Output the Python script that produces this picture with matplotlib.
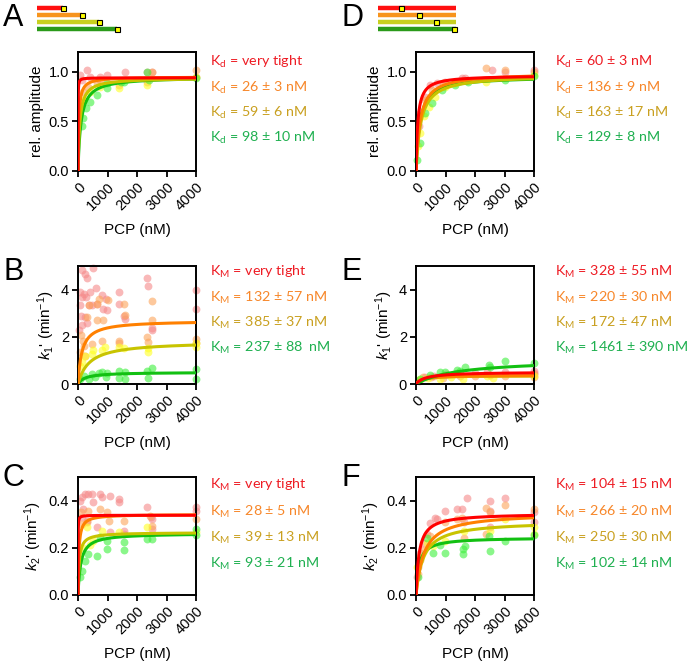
import numpy as np
import matplotlib
matplotlib.use("Agg")
import matplotlib.pyplot as plt

plt.rcParams['font.family'] = ['Liberation Sans', 'DejaVu Sans']
plt.rcParams['mathtext.fontset'] = 'custom'
plt.rcParams['mathtext.rm'] = 'Liberation Sans'
plt.rcParams['mathtext.it'] = 'Liberation Sans:italic'

# ---------------- data ----------------
series = ['red', 'orange', 'yellow', 'green']

# Panel A (rel. amplitude)
A_x = {
    'red':    [68, 296, 410, 752, 980, 1610, 2350, 2520, 4000, 125],
    'orange': [2520, 4000, 1380, 182, 353, 638, 2350, 752],
    'yellow': [1380, 2350, 182, 410, 752, 4000],
    'green':  [125, 182, 273, 410, 638, 980, 980, 1450, 1570, 2350, 2400, 4000],
}
A_y = {
    'red':    [0.97, 1.02, 0.95, 0.95, 0.97, 1.0, 1.0, 1.0, 0.95, 0.92],
    'orange': [1.0, 1.02, 0.87, 0.80, 0.85, 0.89, 0.90, 0.92],
    'yellow': [0.84, 0.87, 0.72, 0.80, 0.85, 0.95],
    'green':  [0.45, 0.53, 0.64, 0.70, 0.77, 0.84, 0.89, 0.90, 0.90, 1.0, 0.92, 0.94],
}
# Panel B (k1')
B_x = {
    'red':    [136, 250, 306, 500, 80, 193, 136, 272, 420, 623, 816, 963, 838, 985,
               1382, 1382, 1552, 1586, 2346, 2357, 2493, 2516, 4000, 4000, 80, 90,
               136, 250, 306, 45, 476, 646, 385],
    'orange': [385, 646, 714, 306, 646, 838, 1020, 1575, 1586, 2493, 2516, 2346, 2380,
               113, 158, 193, 476, 816, 1382, 1382, 4000, 4000, 80, 250],
    'yellow': [476, 230, 930, 1552, 2380, 2380, 4000, 4000, 136, 80, 510, 816, 1382],
    'green':  [80, 193, 476, 816, 963, 1382, 1586, 1382, 1586, 2346, 2516, 2380, 4000,
               4000, 365, 589, 985, 700],
}
B_y = {
    'red':    [4.82, 4.67, 4.5, 4.9, 3.9, 3.83, 3.69, 3.69, 3.9, 4.07, 3.76, 3.62, 3.19,
               3.12, 3.9, 3.4, 2.9, 2.77, 4.5, 4.14, 2.27, 2.37, 3.97, 3.19, 3.33, 2.9,
               2.5, 2.84, 2.6, 2.27, 3.33, 3.4, 3.33],
    'orange': [3.33, 3.4, 3.62, 2.84, 2.7, 2.72, 3.55, 3.4, 2.94, 3.5, 2.72, 1.99, 1.8,
               2.06, 1.84, 1.63, 1.7, 1.84, 1.84, 1.74, 1.91, 1.74, 1.35, 1.2],
    'yellow': [1.28, 1.2, 1.56, 1.52, 1.52, 1.35, 1.74, 1.56, 0.92, 0.78, 1.46, 1.45, 1.56],
    'green':  [0.21, 0.35, 0.43, 0.5, 0.28, 0.57, 0.5, 0.24, 0.21, 0.57, 0.67, 0.24, 0.64,
               0.21, 0.21, 0.28, 0.47, 0.47],
}
# Panel C (k2')
C_x = {
    'red':    [68, 125, 239, 353, 467, 524, 752, 809, 1094, 1380, 1380, 2350, 2485, 2520,
               4000, 4000, 182, 125, 296, 638, 1094, 1550, 1550, 2520],
    'orange': [100, 353, 752, 980, 1040, 1550, 2430, 2520, 4000, 296, 125],
    'yellow': [296, 524, 809, 1380, 2350, 410, 4000, 182],
    'green':  [125, 68, 239, 353, 638, 752, 980, 980, 1550, 1550, 2350, 2520, 4000, 4000],
}
C_y = {
    'red':    [0.40, 0.414, 0.43, 0.43, 0.43, 0.393, 0.43, 0.414, 0.418, 0.407, 0.393,
               0.375, 0.33, 0.322, 0.375, 0.358, 0.365, 0.33, 0.315, 0.287, 0.266, 0.273,
               0.26, 0.28],
    'orange': [0.35, 0.357, 0.365, 0.35, 0.315, 0.315, 0.336, 0.294, 0.322, 0.308, 0.30],
    'yellow': [0.287, 0.23, 0.273, 0.266, 0.287, 0.21, 0.266, 0.20],
    'green':  [0.10, 0.075, 0.145, 0.173, 0.167, 0.245, 0.23, 0.196, 0.224, 0.189, 0.238,
               0.238, 0.28, 0.256],
}
# Panel D (rel. amplitude)
D_x = {
    'red':    [90, 146, 315, 485, 710, 990, 1550, 1660, 2560, 3020, 4000],
    'orange': [315, 540, 930, 2360, 3020, 4000],
    'yellow': [68, 146, 260, 430, 650, 990, 1320, 2360, 4000],
    'green':  [34, 146, 315, 540, 880, 1320, 1770, 3020, 4000],
}
D_y = {
    'red':    [0.45, 0.58, 0.75, 0.87, 0.89, 0.90, 0.94, 0.94, 1.02, 1.0, 1.02],
    'orange': [0.72, 0.82, 0.89, 1.04, 1.02, 1.0],
    'yellow': [0.25, 0.38, 0.55, 0.65, 0.75, 0.85, 0.89, 0.90, 0.97],
    'green':  [0.11, 0.28, 0.58, 0.69, 0.82, 0.87, 0.90, 0.92, 0.96],
}
# Panel E (k1')
E_x = {
    'red':    [100, 300, 600, 1000, 1400, 2000, 2400, 3000, 4000, 4000],
    'orange': [100, 250, 500, 900, 1500, 2000, 2500, 3000, 4000, 4000],
    'yellow': [150, 400, 800, 1200, 1600, 2400, 2600, 4000],
    'green':  [130, 470, 816, 985, 1382, 1500, 1660, 2460, 2516, 3025, 4000],
}
E_y = {
    'red':    [0.12, 0.28, 0.36, 0.42, 0.45, 0.48, 0.50, 0.50, 0.57, 0.45],
    'orange': [0.18, 0.30, 0.30, 0.26, 0.33, 0.36, 0.38, 0.33, 0.42, 0.30],
    'yellow': [0.22, 0.26, 0.22, 0.28, 0.22, 0.32, 0.24, 0.36],
    'green':  [0.21, 0.38, 0.50, 0.52, 0.61, 0.55, 0.71, 0.81, 0.71, 0.99, 0.89],
}
# Panel F (k2')
F_x = {
    'red':    [646, 700, 985, 1382, 1552, 1723, 2493, 3025, 3990, 4000, 365, 476, 250,
               136, 80, 45, 1620, 2516, 2516],
    'orange': [985, 1382, 1552, 2380, 2493, 3025, 4000, 1620, 2380, 476, 250, 136, 80],
    'yellow': [589, 985, 1620, 2516, 3025, 4000, 4000, 365, 136, 20],
    'green':  [589, 985, 1586, 1586, 1660, 2493, 3025, 4000, 2460, 365, 80, 816],
}
F_y = {
    'red':    [0.327, 0.32, 0.356, 0.366, 0.366, 0.41, 0.40, 0.41, 0.35, 0.31, 0.26,
               0.306, 0.22, 0.18, 0.12, 0.078, 0.31, 0.29, 0.356],
    'orange': [0.31, 0.32, 0.327, 0.37, 0.35, 0.38, 0.366, 0.24, 0.26, 0.25, 0.19,
               0.15, 0.09],
    'yellow': [0.206, 0.23, 0.27, 0.27, 0.32, 0.29, 0.26, 0.22, 0.16, 0.12],
    'green':  [0.18, 0.18, 0.195, 0.175, 0.206, 0.185, 0.23, 0.256, 0.25, 0.24, 0.078,
               0.21],
}

# Fit parameters (hyperbolic fits: Vmax * x / (K + x)); None = no fitted curve
A_vmax = {'red': 0.94, 'orange': 0.95, 'yellow': 0.94, 'green': 0.95}
A_K = {'red': 2, 'orange': 26, 'yellow': 59, 'green': 98}
B_vmax = {'red': None, 'orange': 2.69, 'yellow': 1.81, 'green': 0.50}
B_K = {'red': None, 'orange': 132, 'yellow': 385, 'green': 237}
C_vmax = {'red': 0.338, 'orange': 0.342, 'yellow': 0.265, 'green': 0.262}
C_K = {'red': 2, 'orange': 28, 'yellow': 39, 'green': 93}
D_vmax = {'red': 0.965, 'orange': 0.99, 'yellow': 0.97, 'green': 0.955}
D_K = {'red': 60, 'orange': 136, 'yellow': 163, 'green': 129}
E_vmax = {'red': 0.51, 'orange': 0.37, 'yellow': 0.35, 'green': 1.065}
E_K = {'red': 328, 'orange': 220, 'yellow': 172, 'green': 1461}
F_vmax = {'red': 0.346, 'orange': 0.349, 'yellow': 0.313, 'green': 0.244}
F_K = {'red': 104, 'orange': 266, 'yellow': 250, 'green': 102}

A_text = ['very tight', '26 ± 3 nM', '59 ± 6 nM', '98 ± 10 nM']
B_text = ['very tight', '132 ± 57 nM', '385 ± 37 nM', '237 ± 88  nM']
C_text = ['very tight', '28 ± 5 nM', '39 ± 13 nM', '93 ± 21 nM']
D_text = ['60 ± 3 nM', '136 ± 9 nM', '163 ± 17 nM', '129 ± 8 nM']
E_text = ['328 ± 55 nM', '220 ± 30 nM', '172 ± 47 nM', '1461 ± 390 nM']
F_text = ['104 ± 15 nM', '266 ± 20 nM', '250 ± 30 nM', '102 ± 14 nM']

# construct diagrams (bar ends / label square positions, in px)
A_bar_end = [63, 82, 99, 117]
D_square = [400.7, 419, 436.3, 454]

# ---------------- styles ----------------
pt_col = {'red': '#f58a8a', 'orange': '#fca45a', 'yellow': '#ffff22', 'green': '#3cf03c'}
ln_col = {'red': '#ff0000', 'orange': '#ff8000', 'yellow': '#c8c400', 'green': '#12c012'}
tx_col = {'red': '#ee1c24', 'orange': '#f7872a', 'yellow': '#c9a020', 'green': '#1fb050'}
hd_col = ['#ff1010', '#f7941d', '#c8d020', '#2a9a1a']

W, H = 690, 663
fig = plt.figure(figsize=(W / 100, H / 100), dpi=100)


def add_ax(left, top, w=118, h=119):
    return fig.add_axes([left / W, 1 - (top + h) / H, w / W, h / H])


def draw_panel(ax, xs, ys, vmax, K, ylim, yticks, yticklabels, ylabel, line_order):
    for s in ['red', 'orange', 'yellow', 'green']:
        ax.scatter(xs[s], ys[s], s=32, color=pt_col[s], alpha=0.6, lw=0, zorder=2,
                   clip_on=False)
    xx = np.concatenate([np.linspace(0, 50, 200), np.linspace(50, 4000, 400)])
    for s in line_order:
        if vmax[s] is None:
            continue
        ax.plot(xx, vmax[s] * xx / (K[s] + xx), color=ln_col[s], lw=2.2, zorder=3,
                solid_capstyle='butt')
    ax.set_xlim(0, 4000)
    ax.set_ylim(*ylim)
    ax.set_xticks([0, 1000, 2000, 3000, 4000])
    ax.set_xticklabels(['0', '1000', '2000', '3000', '4000'], rotation=45, ha='right',
                       rotation_mode='anchor')
    ax.set_yticks(yticks)
    ax.set_yticklabels(yticklabels)
    ax.tick_params(labelsize=10.5, width=1.3, length=4.5, pad=2)
    for sp in ax.spines.values():
        sp.set_linewidth(1.4)
    ax.set_xlabel('PCP (nM)', fontsize=11, labelpad=7)
    ax.set_ylabel(ylabel, fontsize=11, labelpad=3)


def draw_text(x, ys, sub, texts):
    for s, yy, t in zip(series, ys, texts):
        fig.text(x / W, 1 - yy / H, 'K$_{\\mathregular{%s}}$ = %s' % (sub, t),
                 color=tx_col[s], fontsize=10.3, family='Lato', va='center', ha='left')


amp_label = 'rel. amplitude'
k1_label = "$\\it{k}_{\\mathregular{1}}$' (min$^{\\mathregular{-1}}$)"
k2_label = "$\\it{k}_{\\mathregular{2}}$' (min$^{\\mathregular{-1}}$)"

lefts = [78, 416]
tops = [52, 266, 477]

axA = add_ax(lefts[0], tops[0])
draw_panel(axA, A_x, A_y, A_vmax, A_K, (0, 1.2), [0, 0.5, 1.0], ['0.0', '0.5', '1.0'],
           amp_label, ['green', 'yellow', 'orange', 'red'])
axB = add_ax(lefts[0], tops[1], h=118)
draw_panel(axB, B_x, B_y, B_vmax, B_K, (0, 5), [0, 2, 4], ['0', '2', '4'],
           k1_label, ['green', 'yellow', 'orange', 'red'])
axC = add_ax(lefts[0], tops[2], h=118)
draw_panel(axC, C_x, C_y, C_vmax, C_K, (0, 0.5), [0, 0.2, 0.4], ['0.0', '0.2', '0.4'],
           k2_label, ['green', 'yellow', 'orange', 'red'])
axD = add_ax(lefts[1], tops[0])
draw_panel(axD, D_x, D_y, D_vmax, D_K, (0, 1.2), [0, 0.5, 1.0], ['0.0', '0.5', '1.0'],
           amp_label, ['green', 'yellow', 'orange', 'red'])
axE = add_ax(lefts[1], tops[1], h=118)
draw_panel(axE, E_x, E_y, E_vmax, E_K, (0, 5), [0, 2, 4], ['0', '2', '4'],
           k1_label, ['yellow', 'orange', 'green', 'red'])
axF = add_ax(lefts[1], tops[2], h=118)
draw_panel(axF, F_x, F_y, F_vmax, F_K, (0, 0.5), [0, 0.2, 0.4], ['0.0', '0.2', '0.4'],
           k2_label, ['green', 'yellow', 'orange', 'red'])

# annotations
rowsA = [62, 88, 113, 138]
rowsB = [272, 298, 323, 348]
rowsC = [485, 512, 538, 564]
draw_text(210, rowsA, 'd', A_text)
draw_text(210, rowsB, 'M', B_text)
draw_text(210, rowsC, 'M', C_text)
draw_text(555, rowsA, 'd', D_text)
draw_text(555, rowsB, 'M', E_text)
draw_text(555, rowsC, 'M', F_text)

# panel letters
for lab, x, y in [('A', 3, 18), ('B', 3, 272), ('C', 3, 478),
                  ('D', 341, 18), ('E', 341, 272), ('F', 341, 478)]:
    fig.text(x / W, 1 - y / H, lab, fontsize=22, va='center', ha='left')

# construct diagrams
hax = fig.add_axes([0, 0, 1, 1])
hax.set_xlim(0, W)
hax.set_ylim(H, 0)
hax.axis('off')
bar_y = [7.5, 14.7, 21.9, 29.1]
for c, yy, e in zip(hd_col, bar_y, A_bar_end):
    hax.plot([36.7, e], [yy, yy], color=c, lw=3.2, solid_capstyle='butt')
    hax.plot([e], [yy], marker='s', ms=3.6, mfc='#ffff00', mec='black', mew=0.8)
for c, yy, sq in zip(hd_col, bar_y, D_square):
    hax.plot([377.7, 456], [yy, yy], color=c, lw=3.2, solid_capstyle='butt')
    hax.plot([sq], [yy], marker='s', ms=3.6, mfc='#ffff00', mec='black', mew=0.8)

fig.savefig('out.png', dpi=100)
